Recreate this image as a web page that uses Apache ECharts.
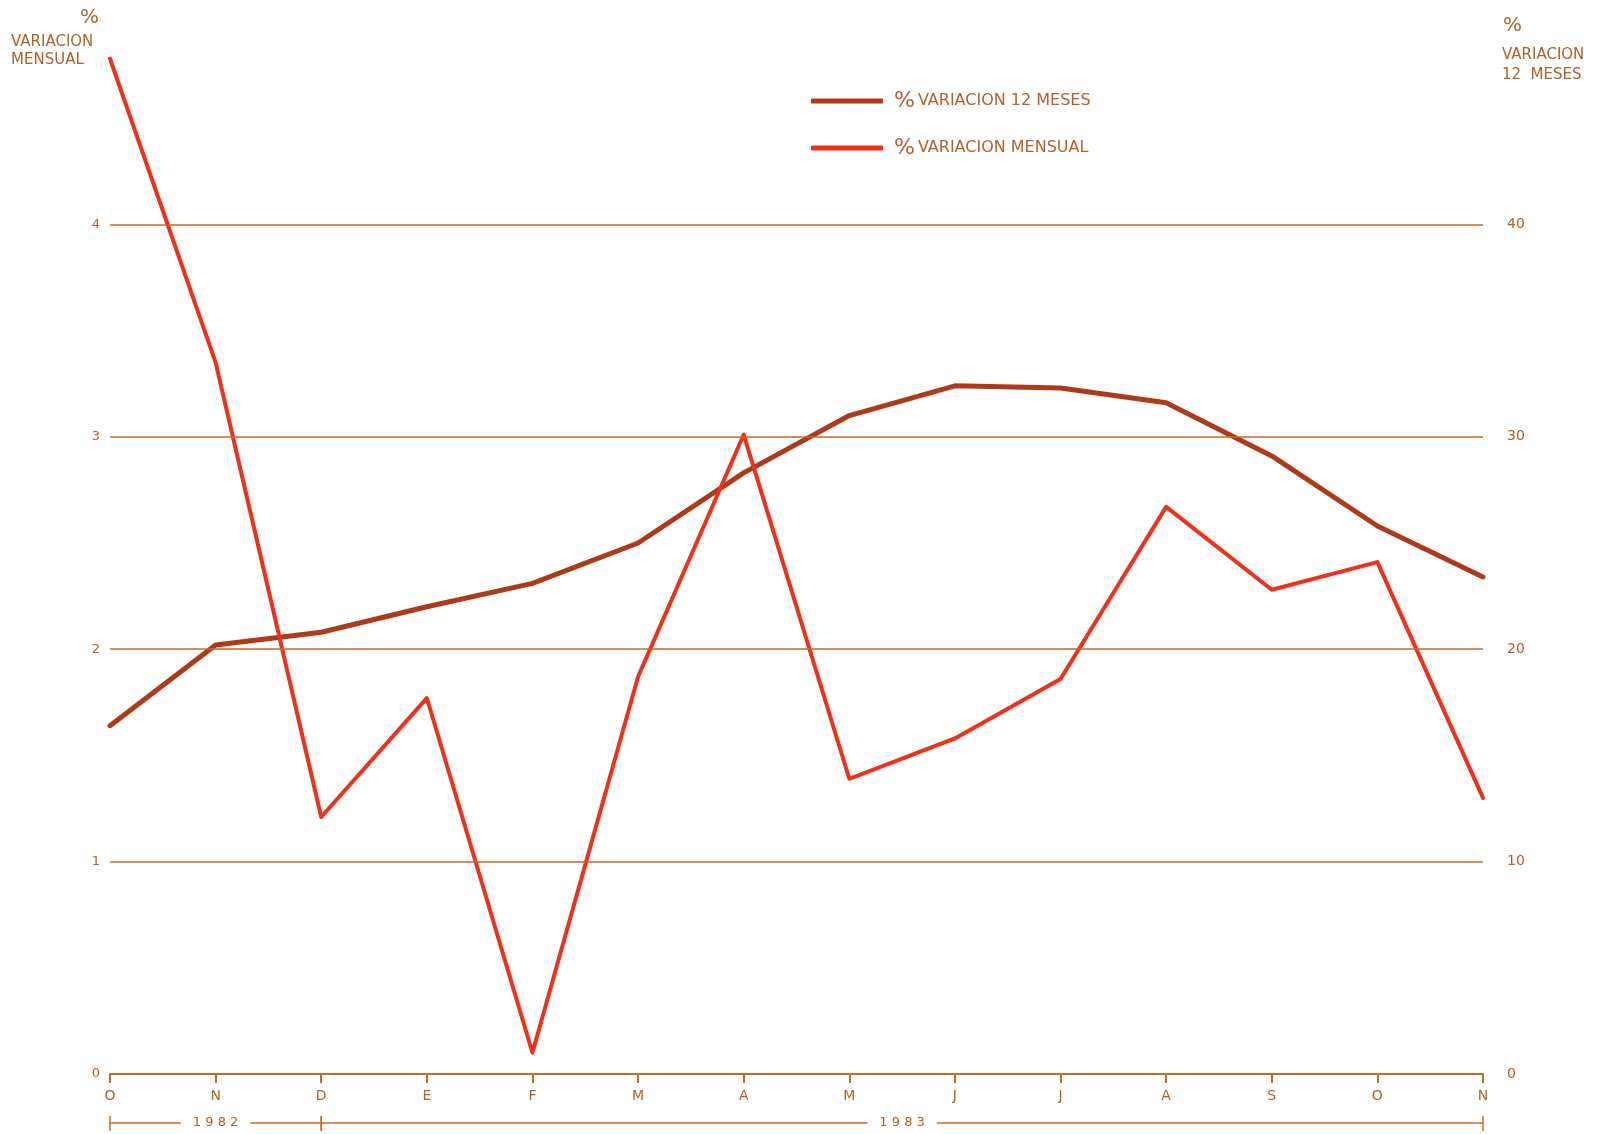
<!DOCTYPE html>
<html><head><meta charset="utf-8">
<script src="https://cdn.jsdelivr.net/npm/echarts@6/dist/echarts.min.js"></script>
<style>html,body{margin:0;padding:0;background:#fff}#c{width:1605px;height:1134px}</style>
</head><body><div id="c"></div>
<script>
// ---- data ----
const months = ['O','N','D','E','F','M','A','M','J','J','A','S','O','N'];
const variacionMensual = [4.78,3.35,1.21,1.77,0.10,1.87,3.01,1.39,1.58,1.86,2.67,2.28,2.41,1.30];
const variacion12Meses = [16.4,20.2,20.8,22.0,23.1,25.0,28.3,31.0,32.4,32.3,31.6,29.1,25.8,23.4];
const leftGridValues = [1,2,3,4];
const years = [
  {label:'1982', from:0, to:2},
  {label:'1983', from:2, to:13}
];
const name12 = '% VARIACION 12 MESES';
const nameMens = '% VARIACION MENSUAL';

// ---- style ----
const TXT = '#b0622a';
const GRID = '#c8692a';
const BROWN = '#ad3a1a';
const RED = '#f0301a';
const FONT = '"DejaVu Sans", sans-serif';

const chart = echarts.init(document.getElementById('c'), null, {renderer:'canvas'});
chart.setOption({
  backgroundColor:'#ffffff',
  animation:false,
  textStyle:{fontFamily:FONT},
  grid:{left:110, right:122, top:12, bottom:60},
  legend:{
    orient:'vertical', left:806, top:85, itemGap:25,
    itemWidth:72, itemHeight:5, icon:'roundRect',
    data:[name12, nameMens],
    formatter:function(n){ return '{p|%}{t|' + n.slice(2) + '}'; },
    textStyle:{
      color:TXT,
      rich:{
        p:{fontSize:22, color:TXT, fontFamily:FONT, fontWeight:'normal', padding:[0,3,0,6]},
        t:{fontSize:16, color:TXT, fontFamily:FONT}
      }
    }
  },
  graphic:[
    {type:'text', left:80, top:8, style:{text:'%', fill:TXT, font:'20px '+FONT}},
    {type:'text', left:11, top:33, style:{text:'VARIACION\nMENSUAL', fill:TXT, font:'15px '+FONT, lineHeight:18}},
    {type:'text', left:1503, top:16, style:{text:'%', fill:TXT, font:'20px '+FONT}},
    {type:'text', left:1502, top:45, style:{text:'VARIACION\n12  MESES', fill:TXT, font:'15px '+FONT, lineHeight:20}}
  ],
  xAxis:{
    type:'category', data:months, boundaryGap:false,
    axisLine:{lineStyle:{color:GRID, width:2}},
    axisTick:{show:true, length:9, alignWithLabel:true, lineStyle:{color:GRID, width:2}},
    axisLabel:{color:TXT, fontSize:14, margin:15, fontFamily:FONT},
    splitLine:{show:false}
  },
  yAxis:[
    {type:'value', min:0, max:5, interval:1, position:'left',
     axisLine:{show:false}, axisTick:{show:false},
     axisLabel:{color:TXT, fontSize:13, margin:10, showMaxLabel:false, fontFamily:FONT},
     splitLine:{show:false}},
    {type:'value', min:0, max:50, interval:10, position:'right',
     axisLine:{show:false}, axisTick:{show:false},
     axisLabel:{color:TXT, fontSize:14, margin:24, showMaxLabel:false, fontFamily:FONT},
     splitLine:{show:false}}
  ],
  series:[
    {name:name12, type:'line', yAxisIndex:1, data:variacion12Meses, symbol:'none',
     lineStyle:{color:BROWN, width:5, cap:'round', join:'round'}, itemStyle:{color:BROWN}, z:3},
    {name:nameMens, type:'line', yAxisIndex:0, data:variacionMensual, symbol:'none',
     lineStyle:{color:RED, width:4, cap:'round', join:'round'}, itemStyle:{color:RED}, z:4,
     markLine:{silent:true, symbol:'none', label:{show:false},
       lineStyle:{color:GRID, width:1.5, type:'solid'},
       data:leftGridValues.map(v=>({yAxis:v}))}
    }
  ]
});

// year bar beneath the month axis, positioned through the axis scale
const g = [];
const yBar = 1123;
years.forEach(function(yr){
  const x0 = chart.convertToPixel({xAxisIndex:0}, yr.from);
  const x1 = chart.convertToPixel({xAxisIndex:0}, yr.to);
  const xm = (x0+x1)/2;
  g.push({type:'line', shape:{x1:x0, y1:yBar, x2:x1, y2:yBar}, style:{stroke:GRID, lineWidth:1.5}});
  g.push({type:'line', shape:{x1:x0, y1:yBar-7, x2:x0, y2:yBar+8}, style:{stroke:GRID, lineWidth:1.5}});
  g.push({type:'line', shape:{x1:x1, y1:yBar-7, x2:x1, y2:yBar+8}, style:{stroke:GRID, lineWidth:1.5}});
  g.push({type:'text', x:xm, y:yBar, z:10, style:{text:yr.label.split('').join(' '), fill:TXT, font:'13px '+FONT,
    align:'center', verticalAlign:'middle', backgroundColor:'#fff', padding:[2,12]}});
});
const opt = chart.getOption();
chart.setOption({graphic: opt.graphic[0].elements.concat(g)});
</script>
</body></html>
